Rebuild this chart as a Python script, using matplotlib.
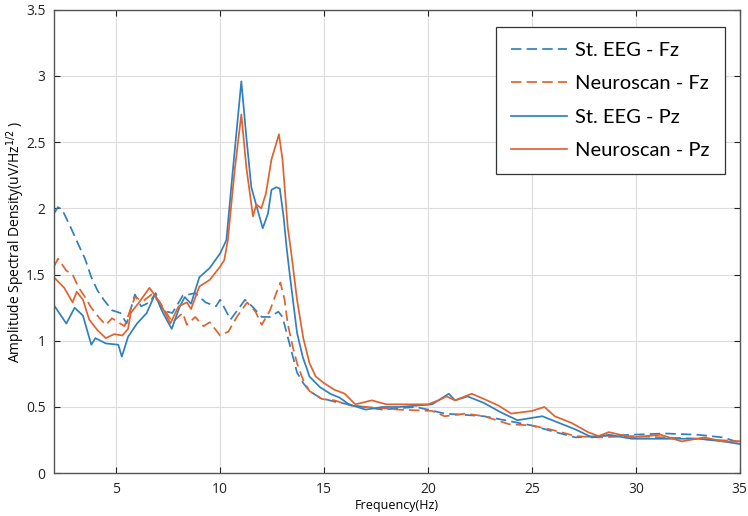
import matplotlib
matplotlib.use("Agg")
import matplotlib.pyplot as plt

# St. EEG - Fz (dashed blue)
st_fz_f = [2.0, 2.2, 2.4, 2.8, 3.2, 3.5, 3.8, 4.1, 4.4, 4.8, 5.2, 5.5, 5.9, 6.2, 6.6, 6.9, 7.2, 7.7, 8.2, 8.8,
           9.3, 9.8, 10.0, 10.5, 11.2, 11.6, 12.0, 12.4, 12.8, 13.0, 13.25, 13.5, 13.7, 14.0, 14.3, 14.8, 15.5,
           16.5, 17.8, 19.4, 20.0, 20.8, 21.8, 22.7, 23.7, 25.0, 25.9, 27.1, 28.2, 29.8, 31.4, 33.0, 34.2, 35.0]
st_fz_a = [1.96, 2.01, 1.99, 1.86, 1.72, 1.62, 1.48, 1.38, 1.31, 1.23, 1.21, 1.13, 1.35, 1.26, 1.29, 1.36, 1.23, 1.21, 1.34, 1.36,
           1.29, 1.26, 1.31, 1.16, 1.31, 1.25, 1.18, 1.18, 1.22, 1.18, 1.03, 0.88, 0.76, 0.68, 0.62, 0.57, 0.54,
           0.51, 0.48, 0.50, 0.48, 0.45, 0.44, 0.43, 0.40, 0.36, 0.32, 0.27, 0.28, 0.29, 0.30, 0.29, 0.27, 0.23]

# Neuroscan - Fz (dashed orange)
ns_fz_f = [2.0, 2.2, 2.6, 2.9, 3.2, 3.5, 3.8, 4.2, 4.5, 4.8, 5.1, 5.4, 5.9, 6.3, 6.7, 7.1, 7.7, 8.2, 8.4, 8.8,
           9.2, 9.5, 10.0, 10.4, 10.8, 11.3, 11.7, 12.0, 12.4, 12.7, 12.9, 13.1, 13.25, 13.5, 13.7, 14.0, 14.3,
           14.9, 15.5, 16.3, 18.6, 20.2, 20.8, 21.8, 22.7, 23.9, 25.0, 25.9, 27.1, 28.2, 29.8, 31.4, 33.0, 35.0]
ns_fz_a = [1.56, 1.62, 1.53, 1.50, 1.40, 1.33, 1.25, 1.17, 1.12, 1.17, 1.14, 1.11, 1.33, 1.30, 1.35, 1.29, 1.14, 1.21, 1.12, 1.18,
           1.11, 1.14, 1.04, 1.07, 1.18, 1.29, 1.22, 1.12, 1.23, 1.36, 1.44, 1.31, 1.13, 0.95, 0.83, 0.70, 0.62,
           0.56, 0.55, 0.51, 0.48, 0.47, 0.43, 0.45, 0.43, 0.37, 0.36, 0.33, 0.28, 0.27, 0.28, 0.27, 0.26, 0.24]

# St. EEG - Pz (solid blue)
st_pz_f = [2.0, 2.6, 3.0, 3.4, 3.8, 4.0, 4.5, 5.1, 5.27, 5.57, 6.0, 6.47, 6.86, 7.25, 7.67, 8.06, 8.3, 8.6, 9.0, 9.5,
           10.0, 10.3, 10.6, 11.02, 11.26, 11.5, 11.8, 12.05, 12.3, 12.47, 12.7, 12.87, 13.05, 13.2, 13.35, 13.5,
           13.7, 13.97, 14.3, 14.8, 15.3, 15.75, 16.2, 17.0, 17.8, 18.6, 19.4, 20.2, 21.0, 21.3, 21.9, 22.7,
           23.5, 24.3, 25.5, 26.3, 27.1, 27.9, 28.7, 29.8, 31.4, 33.0, 34.2, 35.0]
st_pz_a = [1.27, 1.13, 1.25, 1.19, 0.97, 1.02, 0.98, 0.97, 0.88, 1.03, 1.13, 1.21, 1.35, 1.21, 1.09, 1.26, 1.33, 1.28, 1.48, 1.55,
           1.66, 1.76, 2.27, 2.96, 2.54, 2.16, 1.99, 1.85, 1.96, 2.14, 2.16, 2.15, 1.94, 1.70, 1.50, 1.31,
           1.06, 0.88, 0.73, 0.65, 0.60, 0.57, 0.52, 0.48, 0.50, 0.50, 0.51, 0.52, 0.60, 0.55, 0.58, 0.53,
           0.46, 0.40, 0.43, 0.38, 0.33, 0.27, 0.29, 0.26, 0.26, 0.26, 0.24, 0.22]

# Neuroscan - Pz (solid orange)
ns_pz_f = [2.0, 2.5, 2.9, 3.1, 3.4, 3.7, 4.1, 4.5, 4.9, 5.3, 5.57, 5.7, 6.1, 6.6, 7.1, 7.6, 8.0, 8.4, 8.6, 9.0,
           9.5, 10.0, 10.2, 10.37, 10.7, 11.02, 11.26, 11.58, 11.74, 11.98, 12.2, 12.47, 12.83, 13.0, 13.25, 13.4,
           13.7, 14.0, 14.3, 14.6, 15.0, 15.5, 16.0, 16.5, 17.3, 18.0, 18.6, 19.2, 20.0, 20.5, 20.9, 21.3, 22.1,
           22.7, 23.4, 24.0, 25.0, 25.6, 26.1, 26.9, 27.7, 28.2, 28.7, 29.8, 31.2, 32.2, 33.3, 34.2, 35.0]
ns_pz_a = [1.48, 1.40, 1.29, 1.37, 1.31, 1.16, 1.08, 1.02, 1.05, 1.04, 1.09, 1.21, 1.29, 1.40, 1.29, 1.13, 1.26, 1.29, 1.24, 1.41,
           1.46, 1.56, 1.61, 1.76, 2.29, 2.71, 2.31, 1.94, 2.03, 2.00, 2.11, 2.37, 2.56, 2.37, 1.86, 1.69,
           1.31, 1.02, 0.83, 0.73, 0.68, 0.63, 0.60, 0.52, 0.55, 0.52, 0.52, 0.52, 0.52, 0.55, 0.58, 0.55, 0.60,
           0.56, 0.51, 0.45, 0.47, 0.50, 0.43, 0.38, 0.31, 0.28, 0.31, 0.27, 0.29, 0.24, 0.27, 0.24, 0.24]

blue = '#3080c0'
orange = '#e0632f'
dash = (0, (6, 3))

fig = plt.figure(figsize=(7.48, 5.16), dpi=100)
ax = fig.add_axes([0.072, 0.083, 0.917, 0.898])

ax.plot(st_fz_f, st_fz_a, color=blue, lw=1.25, linestyle=dash, label='St. EEG - Fz')
ax.plot(ns_fz_f, ns_fz_a, color=orange, lw=1.25, linestyle=dash, label='Neuroscan - Fz')
ax.plot(st_pz_f, st_pz_a, color=blue, lw=1.25, label='St. EEG - Pz')
ax.plot(ns_pz_f, ns_pz_a, color=orange, lw=1.25, label='Neuroscan - Pz')

ax.set_xlim(2, 35)
ax.set_ylim(0, 3.5)
ax.set_xticks([5, 10, 15, 20, 25, 30, 35])
ax.set_yticks([0, 0.5, 1, 1.5, 2, 2.5, 3, 3.5])
ax.set_yticklabels(['0', '0.5', '1', '1.5', '2', '2.5', '3', '3.5'])
ax.grid(True, color='#dcdcdc', lw=0.8)
ax.set_axisbelow(True)
ax.tick_params(direction='in', top=True, right=True, length=4, labelsize=10, colors='#222222', pad=6)
for s in ax.spines.values():
    s.set_color('#555555')
    s.set_linewidth(1.0)

for lab in ax.get_xticklabels() + ax.get_yticklabels():
    lab.set_family('Open Sans')

ax.set_xlabel('Frequency(Hz)', fontsize=9, family='Open Sans', labelpad=2)
ax.set_ylabel(r'Amplitude Spectral Density(uV/Hz$^{1/2}$ )', fontsize=10, family='Open Sans', labelpad=-1)

# 图例: 右上角, 方框
leg = ax.legend(loc='upper right', bbox_to_anchor=(0.978, 0.963), borderaxespad=0,
                fancybox=False, framealpha=1, edgecolor='#333333', handlelength=2.8,
                labelspacing=0.8, borderpad=0.75, handletextpad=0.4,
                prop={'family': 'Lato', 'size': 14.5})
leg.get_frame().set_linewidth(0.9)

fig.savefig('out.png', dpi=100)
